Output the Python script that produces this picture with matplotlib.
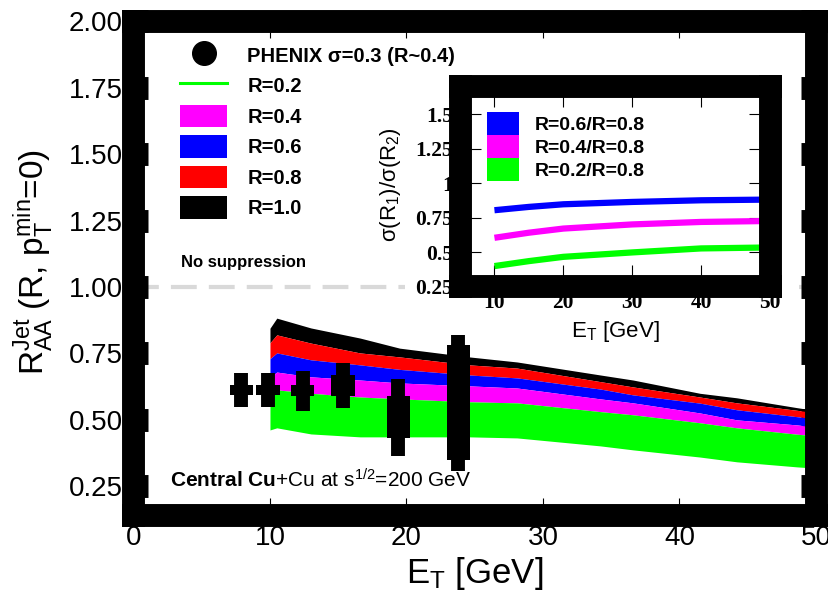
import matplotlib
matplotlib.use('Agg')
import matplotlib.pyplot as plt
from matplotlib.patches import Patch, Rectangle
from matplotlib.lines import Line2D
from matplotlib.markers import MarkerStyle, TICKLEFT, TICKRIGHT

plt.rcParams['font.family'] = ['Liberation Sans', 'DejaVu Sans']
plt.rcParams['mathtext.fontset'] = 'custom'
plt.rcParams['mathtext.rm'] = 'Liberation Sans'
plt.rcParams['mathtext.it'] = 'Liberation Sans:italic'
plt.rcParams['mathtext.bf'] = 'Liberation Sans:bold'
plt.rcParams['mathtext.sf'] = 'Liberation Sans'

# ---------------- data ----------------
et = [10, 10.5, 13, 16.6, 19.5, 24.6, 28.1, 34.2, 36.6, 41.5, 44.2, 48.6, 50]
r10_hi = [0.845, 0.883, 0.846, 0.808, 0.770, 0.737, 0.718, 0.669, 0.650, 0.600, 0.583, 0.546, 0.535]
r08_hi = [0.790, 0.820, 0.789, 0.752, 0.737, 0.707, 0.695, 0.644, 0.624, 0.586, 0.564, 0.536, 0.527]
r06_hi = [0.730, 0.752, 0.726, 0.707, 0.690, 0.669, 0.658, 0.616, 0.594, 0.563, 0.538, 0.512, 0.503]
r04_hi = [0.660, 0.680, 0.662, 0.650, 0.639, 0.628, 0.620, 0.579, 0.564, 0.526, 0.500, 0.481, 0.473]
r02_hi = [0.600, 0.613, 0.600, 0.586, 0.579, 0.568, 0.564, 0.531, 0.519, 0.489, 0.470, 0.446, 0.440]
r02_lo = [0.462, 0.470, 0.447, 0.436, 0.436, 0.436, 0.432, 0.402, 0.387, 0.360, 0.342, 0.323, 0.318]

phx_et = [7.9, 9.85, 12.4, 15.35, 19.4, 23.8]
phx_raa = [0.613, 0.613, 0.610, 0.630, 0.510, 0.566]
phx_stat = [0.064, 0.064, 0.075, 0.085, 0.145, 0.260]
phx_sys = [0.020, 0.020, 0.020, 0.040, 0.080, 0.216]

ins_et = [10, 15, 20, 30, 40, 50]
ratio_06 = [0.803, 0.827, 0.846, 0.863, 0.875, 0.880]
ratio_04 = [0.603, 0.640, 0.670, 0.700, 0.718, 0.725]
ratio_02 = [0.398, 0.434, 0.465, 0.497, 0.526, 0.533]

main_yticks = [0.25, 0.50, 0.75, 1.00, 1.25, 1.50, 1.75, 2.00]
main_xticks = [0, 10, 20, 30, 40, 50]
ins_yticks = [0.25, 0.5, 0.75, 1, 1.25, 1.5]
ins_yticklabels = ['0.25', '0.5', '0.75', '1', '1.25', '1.5']
ins_xticks = [10, 20, 30, 40, 50]

GREEN, MAG, BLUE, RED, BLACK = '#00ff00', '#ff00ff', '#0000ff', '#ff0000', '#000000'
FRAME = 16.5

fig = plt.figure(figsize=(8.29, 5.96), dpi=100)
ax = fig.add_axes([0.1610, 0.1351, 0.8233, 0.8289])

# bands
ax.fill_between(et, r08_hi, r10_hi, color=BLACK, lw=0, zorder=2)
ax.fill_between(et, r06_hi, r08_hi, color=RED, lw=0, zorder=2)
ax.fill_between(et, r04_hi, r06_hi, color=BLUE, lw=0, zorder=2)
ax.fill_between(et, r02_hi, r04_hi, color=MAG, lw=0, zorder=2)
ax.fill_between(et, r02_lo, r02_hi, color=GREEN, lw=0, zorder=2)

# PHENIX data: systematic boxes + stat bars
ax.bar(phx_et, [2 * s for s in phx_sys], bottom=[v - s for v, s in zip(phx_raa, phx_sys)],
       width=1.7, color=BLACK, zorder=3)
ax.errorbar(phx_et, phx_raa, yerr=phx_stat, fmt='none', ecolor=BLACK, elinewidth=10,
            capsize=0, zorder=3)

ax.axhline(1.0, color='#d9d9d9', lw=3, dashes=(6.2, 2.9), zorder=1)

ax.set_xlim(0, 50)
ax.set_ylim(0.14, 2.0)
ax.set_xticks(main_xticks)
ax.set_yticks(main_yticks)
ax.set_yticklabels([f'{v:.2f}' for v in main_yticks])
ax.tick_params(axis='y', direction='in', length=10.5, width=FRAME, left=True, right=True,
               labelsize=20, pad=7.5, color='k')
ax.tick_params(axis='x', direction='in', length=12.5, width=0.8, top=True, bottom=True,
               labelsize=20, pad=7, color='k')
for t in ax.yaxis.get_major_ticks():
    t.tick1line.set_marker(MarkerStyle(TICKRIGHT, capstyle='butt'))
    t.tick2line.set_marker(MarkerStyle(TICKLEFT, capstyle='butt'))
for sp in ax.spines.values():
    sp.set_linewidth(FRAME)
    sp.set_zorder(4)

handles = [
    Line2D([], [], marker='o', color=BLACK, ms=17, ls='none'),
    Line2D([], [], color=GREEN, lw=2.2),
    Patch(facecolor=MAG, edgecolor='none'),
    Patch(facecolor=BLUE, edgecolor='none'),
    Patch(facecolor=RED, edgecolor='none'),
    Patch(facecolor=BLACK, edgecolor='none'),
]
labels = ['PHENIX σ=0.3 (R~0.4)', 'R=0.2', 'R=0.4', 'R=0.6', 'R=0.8', 'R=1.0']
ax.legend(handles, labels, loc='upper left', bbox_to_anchor=(0.068, 0.955),
          frameon=False, borderpad=0, borderaxespad=0, handlelength=2.35,
          handleheight=1.325, handletextpad=1.0, labelspacing=0.41,
          prop={'size': 14.5, 'weight': 'bold'})

ax.text(3.5, 1.075, 'No suppression', fontsize=12, fontweight='bold', va='baseline')
ax.text(2.7, 0.244, r'$\mathbf{Central\ Cu}$+Cu at s$^{1/2}$=200 GeV', fontsize=15,
        va='baseline')

fig.text(34 / 829, 1 - 262 / 596, r'R$_{\rm AA}^{\rm Jet}$ (R, p$_{\rm T}^{\rm min}$=0)',
         rotation=90, fontsize=24, ha='center', va='center')
fig.text(475 / 829, 1 - 583 / 596, r'E$_{\rm T}$ [GeV]', fontsize=25, ha='center',
         va='baseline')

# white background behind the inset
fig.add_artist(Rectangle((405 / 829, 1 - 335 / 596), 394 / 829, 263 / 596,
                         transform=fig.transFigure, facecolor='white', edgecolor='none',
                         zorder=0.5))

# ---------------- inset ----------------
ins = fig.add_axes([0.5549, 0.5193, 0.3739, 0.3356])
ins.set_zorder(1)
ins.set_facecolor('white')
ins.plot(ins_et, ratio_06, color=BLUE, lw=4.5, solid_capstyle='butt')
ins.plot(ins_et, ratio_04, color=MAG, lw=4.5, solid_capstyle='butt')
ins.plot(ins_et, ratio_02, color=GREEN, lw=4.5, solid_capstyle='butt')
ins.set_xlim(5, 50)
ins.set_ylim(0.25, 1.7)
ins.set_xticks(ins_xticks)
ins.set_yticks(ins_yticks)
ins.set_yticklabels(ins_yticklabels)
for lab in ins.get_xticklabels() + ins.get_yticklabels():
    lab.set_fontfamily(['Liberation Serif', 'DejaVu Serif'])
    lab.set_fontweight('bold')
ins.tick_params(axis='both', direction='in', length=15, width=0.8, top=True, right=True,
                labelsize=15.5, color='k')
ins.tick_params(axis='y', pad=5)
ins.tick_params(axis='x', pad=5)
for sp in ins.spines.values():
    sp.set_linewidth(FRAME)
    sp.set_zorder(4)
ins_handles = [Patch(facecolor=BLUE, edgecolor='none'),
               Patch(facecolor=MAG, edgecolor='none'),
               Patch(facecolor=GREEN, edgecolor='none')]
ins_labels = ['R=0.6/R=0.8', 'R=0.4/R=0.8', 'R=0.2/R=0.8']
ins.legend(ins_handles, ins_labels, loc='upper left', bbox_to_anchor=(0.087, 0.8725),
           frameon=False, borderpad=0, borderaxespad=0, handlelength=1.65,
           handleheight=1.447, handletextpad=0.82, labelspacing=0.0,
           prop={'size': 14, 'weight': 'bold'})
fig.text(391 / 829, 1 - 185 / 596, r'σ(R$_1$)/σ(R$_2$)', rotation=90, fontsize=16,
         ha='center', va='center', zorder=3)
fig.text(615 / 829, 1 - 337 / 596, r'E$_{\rm T}$ [GeV]', fontsize=16, ha='center',
         va='baseline', zorder=3)

fig.savefig('out.png', dpi=100)
